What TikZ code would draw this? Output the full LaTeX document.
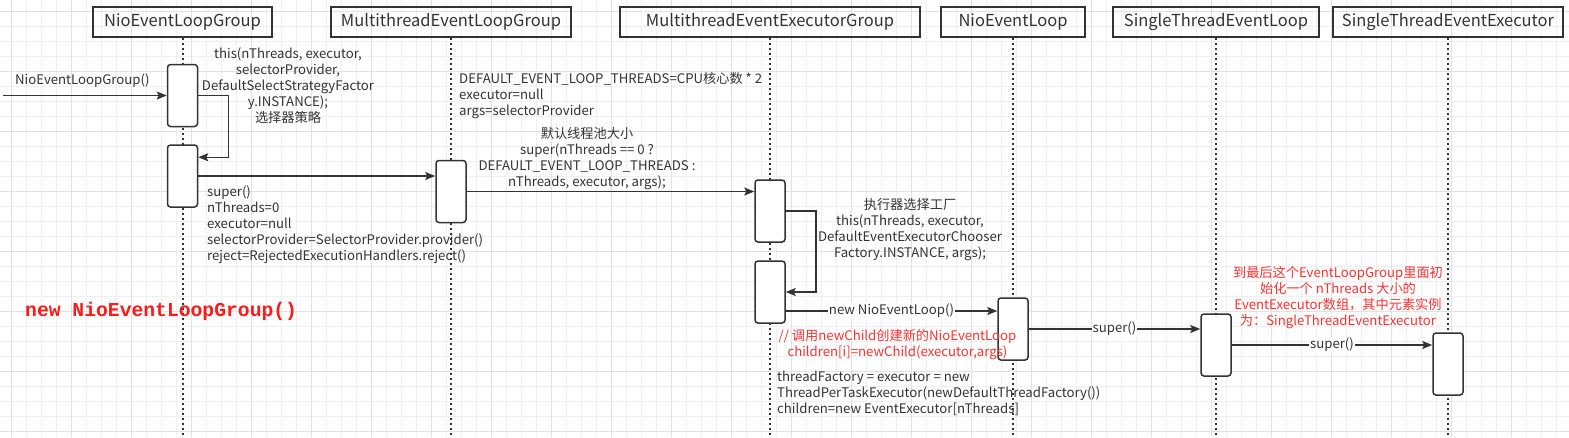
\documentclass[tikz,border=0pt]{standalone}
\usepackage{fontspec}
\setmainfont{Noto Sans CJK SC}
\newfontfamily\codefont{Liberation Mono}
\usetikzlibrary{arrows.meta}
\definecolor{ink}{HTML}{333333}
\definecolor{redtxt}{HTML}{FF3333}
\definecolor{titlered}{HTML}{FF1A1A}
\definecolor{gridminor}{HTML}{F0F0F0}
\definecolor{gridmajor}{HTML}{E2E2E2}
\begin{document}
\begin{tikzpicture}[x=1pt, y=-1pt,
  head/.style={draw=ink, line width=1.5pt, minimum height=30pt, inner sep=0pt, text=ink, font=\fontsize{16.5}{18}\selectfont},
  act/.style={draw=ink, line width=1.5pt, rounded corners=3pt, fill=white, minimum width=30pt, minimum height=62pt, inner sep=0pt},
  life/.style={draw=ink, line width=2pt, dash pattern=on 2pt off 3pt},
  msg/.style={draw=ink, line width=1.5pt, -{Stealth[length=10pt,width=8pt,inset=2pt]}},
  note/.style={inner sep=0pt, text=ink, font=\fontsize{13.2}{16}\selectfont},
  onlbl/.style={fill=white, inner sep=1pt, text=ink, font=\fontsize{13.2}{16}\selectfont},
  rednote/.style={note, text=redtxt}]
\useasboundingbox (0,0) rectangle (1569,437);
\fill[white] (0,0) rectangle (1569,437);
% grid
\foreach \i in {0,...,103} \draw[gridminor, line width=1pt] (11.7+15*\i,0) -- (11.7+15*\i,437);
\foreach \j in {0,...,28} \draw[gridminor, line width=1pt] (0,11.7+15*\j) -- (1569,11.7+15*\j);
\foreach \i in {0,...,25} \draw[gridmajor, line width=1pt] (11.7+60*\i,0) -- (11.7+60*\i,437);
\foreach \j in {0,...,7} \draw[gridmajor, line width=1pt] (0,11.7+60*\j) -- (1569,11.7+60*\j);
\coordinate (bot) at (0,437);
% lifeline heads
\node[head, minimum width=179pt] (G) at (182.5,22) {NioEventLoopGroup};
\node[head, minimum width=240pt] (M) at (451,22) {MultithreadEventLoopGroup};
\node[head, minimum width=300pt] (E) at (770,22) {MultithreadEventExecutorGroup};
\node[head, minimum width=144pt] (N) at (1013,22) {NioEventLoop};
\node[head, minimum width=206pt] (S) at (1216,22) {SingleThreadEventLoop};
\node[head, minimum width=230pt] (X) at (1448,22) {SingleThreadEventExecutor};
\foreach \h in {G,M,E,N,S,X} \draw[life] (\h.south) -- (\h.south |- bot);
% activations
\node[act] (a1) at (182.5,95.5) {};
\node[act] (a2) at (182.5,176) {};
\node[act] (a3) at (451,191.5) {};
\node[act] (a4) at (770,211) {};
\node[act] (a5) at (770,292) {};
\node[act] (a6) at (1013,329) {};
\node[act] (a7) at (1216,345) {};
\node[act] (a8) at (1448,364) {};
% messages
\coordinate (start) at (3,95.5);
\draw[msg] (start) -- (a1.west);
\draw[msg] (a1.east) -- ++(30,0) |- ([yshift=-13pt]a2.north east);
\draw[msg] (a2.east) -- (a2.east -| a3.west);
\draw[msg] (a3.east) -- (a3.east -| a4.west);
\draw[msg] (a4.east) -- ++(30,0) |- (a5.east);
\draw[msg] ([yshift=-19pt]a5.east) -- ([yshift=-19pt]a5.east -| a6.west) node[onlbl, midway] {new NioEventLoop()};
\draw[msg] (a6.east) -- (a6.east -| a7.west) node[onlbl, midway] {super()};
\draw[msg] (a7.east) -- (a7.east -| a8.west) node[onlbl, midway] {super()};
% notes
\node[note, anchor=west] (lblIn) at (15,81) {NioEventLoopGroup()};
\node[note, align=center] (lblThis) at (288,85.5) {this(nThreads, executor,\\selectorProvider,\\DefaultSelectStrategyFactor\\y.INSTANCE);\\选择器策略};
\node[note, align=left, anchor=west] (lblSuper) at (207,225) {super()\\nThreads=0\\executor=null\\selectorProvider=SelectorProvider.provider()\\reject=RejectedExecutionHandlers.reject()};
\node[note, align=left, anchor=west] (lblDefault) at (459,96) {DEFAULT\_EVENT\_LOOP\_THREADS=CPU核心数 * 2\\executor=null\\args=selectorProvider};
\node[note, align=center] (lblPool) at (587,159) {默认线程池大小\\super(nThreads == 0 ?\\DEFAULT\_EVENT\_LOOP\_THREADS :\\nThreads, executor, args);};
\node[note, align=center] (lblChooser) at (910,229.5) {执行器选择工厂\\this(nThreads, executor,\\DefaultEventExecutorChooser\\Factory.INSTANCE, args);};
\node[rednote, align=center] (lblChild) at (897.5,345) {// 调用newChild创建新的NioEventLoop\\children[i]=newChild(executor,args)};
\node[note, align=left, anchor=west] (lblFactory) at (777,393) {threadFactory = executor = new\\ThreadPerTaskExecutor(newDefaultThreadFactory())\\children=new EventExecutor[nThreads]};
\node[rednote, align=center] (lblResult) at (1338,298) {到最后这个EventLoopGroup里面初\\始化一个 nThreads 大小的\\EventExecutor数组，其中元素实例\\为：SingleThreadEventExecutor};
\node[inner sep=0pt, anchor=west, text=titlered, font=\codefont\bfseries\fontsize{19.7}{22}\selectfont] (lblTitle) at (25,311) {new NioEventLoopGroup()};
\end{tikzpicture}
\end{document}
